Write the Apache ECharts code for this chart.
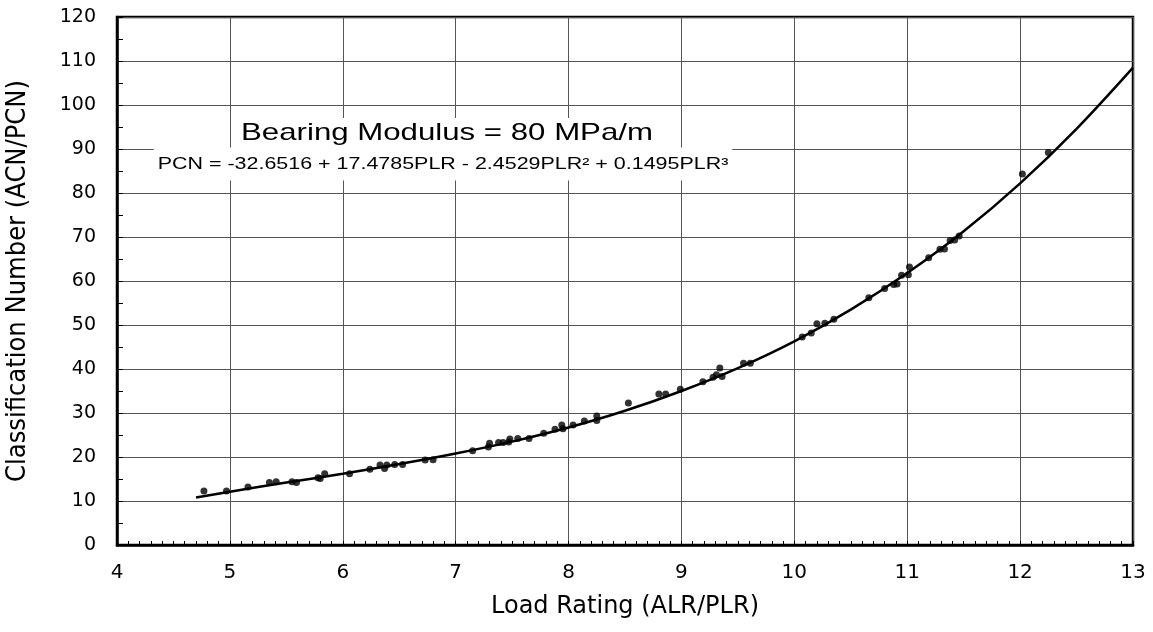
<!DOCTYPE html>
<html><head><meta charset="utf-8">
<script src="https://cdn.jsdelivr.net/npm/echarts@6/dist/echarts.min.js"></script>
<style>html,body{margin:0;padding:0;background:#fff}#c{width:1153px;height:632px}</style>
</head><body><div id="c"></div>
<script>
// Observed data points (PLR, PCN)
const pointX = [4.77,4.97,5.16,5.35,5.41,5.55,5.59,5.78,5.80,5.84,6.06,6.24,6.33,6.37,6.39,6.46,6.53,6.73,6.80,
  7.15,7.29,7.30,7.38,7.42,7.47,7.48,7.55,7.65,7.78,7.88,7.94,7.95,8.04,8.14,8.25,8.25,8.53,8.80,8.86,8.99,
  9.19,9.28,9.31,9.34,9.36,9.55,9.61,10.07,10.15,10.20,10.27,10.35,10.66,10.80,10.88,10.91,10.95,11.01,11.02,
  11.19,11.29,11.33,11.38,11.42,11.46,12.02,12.25];
const pointY = [12.3,12.3,13.2,14.2,14.4,14.4,14.2,15.3,15.1,16.2,16.2,17.2,18.2,17.4,18.2,18.3,18.3,19.3,19.4,
  21.4,22.3,23.1,23.3,23.3,23.4,24.1,24.2,24.2,25.4,26.3,27.3,26.4,27.3,28.2,29.3,28.3,32.3,34.3,34.3,35.4,
  37.1,38.1,38.7,40.2,38.3,41.3,41.3,47.3,48.2,50.3,50.4,51.3,56.2,58.3,59.2,59.3,61.3,61.4,63.2,
  65.3,67.2,67.3,69.2,69.3,70.2,84.3,89.2];
// Fitted curve
const curveX = [4.7,5,5.5,6,6.5,7,7.5,8,8.5,9,9.5,10,10.5,11,11.5,12,12.5,13];
const curveY = [10.8,12.1,14.2,16.2,18.4,20.8,23.5,26.7,30.5,35.0,40.2,46.3,53.5,61.8,71.3,82.2,94.6,108.5];
const xAxisTitle = 'Load Rating (ALR/PLR)';
const yAxisTitle = 'Classification Number (ACN/PCN)';
const titleText = 'Bearing Modulus = 80 MPa/m';
const formulaText = 'PCN = -32.6516 + 17.4785PLR - 2.4529PLR\u00B2 + 0.1495PLR\u00B3';

const chart = echarts.init(document.getElementById('c'), null, {renderer: 'canvas'});
const gridColor = '#555';
chart.setOption({
  animation: false,
  backgroundColor: '#fff',
  grid: {left: 117, right: 20, top: 17, bottom: 87, containLabel: false, outerBoundsMode: 'none',
    show: true, borderColor: '#000', borderWidth: 2.5, backgroundColor: '#fff'},
  xAxis: {
    type: 'value', min: 4, max: 13, interval: 1,
    name: xAxisTitle, nameLocation: 'middle', nameGap: 50,
    nameTextStyle: {fontFamily: 'DejaVu Sans', fontSize: 24, color: '#000'},
    axisLine: {lineStyle: {color: '#000', width: 2.5}},
    axisTick: {inside: true, length: 4, lineStyle: {color: '#000'}},
    minorTick: {show: true, splitNumber: 10, length: 4, lineStyle: {color: '#000'}},
    axisLabel: {fontFamily: 'DejaVu Sans', fontSize: 20, color: '#000', margin: 18},
    splitLine: {show: true, lineStyle: {color: gridColor, width: 1}}
  },
  yAxis: {
    type: 'value', min: 0, max: 120, interval: 10,
    name: yAxisTitle, nameLocation: 'middle', nameGap: 86, nameRotate: 90,
    nameTextStyle: {fontFamily: '"Liberation Sans Narrow", "DejaVu Sans Condensed", sans-serif', fontSize: 27, color: '#000'},
    axisLine: {lineStyle: {color: '#000', width: 2.5}},
    axisTick: {inside: true, length: 6, lineStyle: {color: '#000'}},
    minorTick: {show: true, splitNumber: 2, length: 6, lineStyle: {color: '#000'}},
    axisLabel: {fontFamily: 'DejaVu Sans', fontSize: 19, color: '#000', margin: 21},
    splitLine: {show: true, lineStyle: {color: gridColor, width: 1}}
  },
  series: [
    {type: 'scatter', data: pointX.map((x, i) => [x, pointY[i]]), symbol: 'circle', symbolSize: 7,
     itemStyle: {color: '#000'}, z: 3},
    {type: 'line', data: curveX.map((x, i) => [x, curveY[i]]), smooth: 0.35, showSymbol: false, symbol: 'none',
     lineStyle: {color: '#000', width: 2.5}, z: 4}
  ],
  graphic: [
    {type: 'text', x: 447, y: 133, scaleX: 1.3, z: 100,
     style: {text: titleText, fontFamily: '"Liberation Sans", Arial, sans-serif', fontSize: 24, fill: '#000',
       align: 'center', verticalAlign: 'middle', textAlign: 'center', textVerticalAlign: 'middle',
       backgroundColor: '#fff', padding: [3, 4]}},
    {type: 'text', x: 443, y: 164, scaleX: 1.3, z: 99,
     style: {text: formulaText, fontFamily: '"Liberation Sans", Arial, sans-serif', fontSize: 16.5, fill: '#000',
       align: 'center', verticalAlign: 'middle', textAlign: 'center', textVerticalAlign: 'middle',
       backgroundColor: '#fff', padding: [8, 3]}}
  ]
});
</script>
</body></html>
